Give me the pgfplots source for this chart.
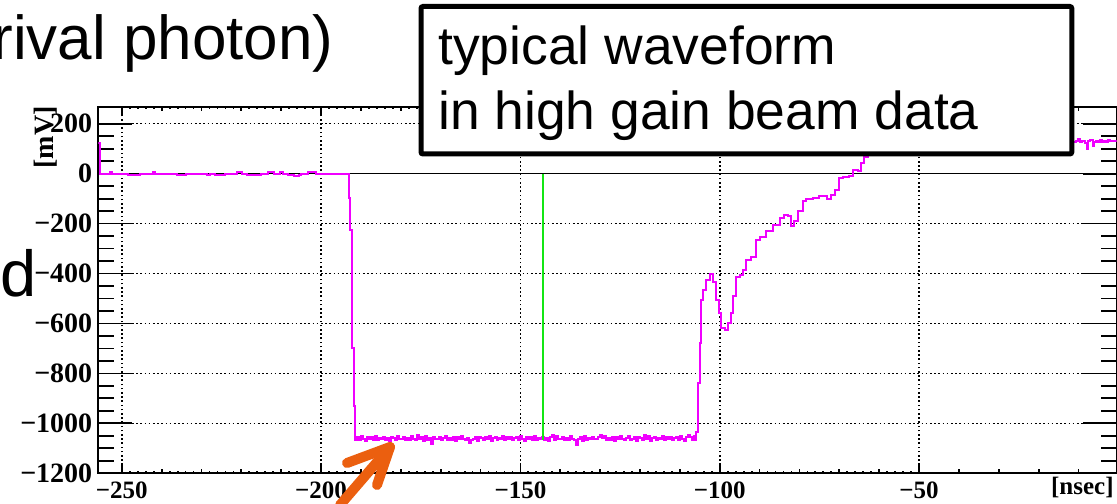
\documentclass[border=0pt]{standalone}
\usepackage{fontspec}
\setmainfont{Liberation Serif}
\newfontfamily\arial{Liberation Sans}
\usepackage{pgfplots}
\pgfplotsset{compat=1.18}
\definecolor{wfmag}{RGB}{240,0,255}
\definecolor{wfgreen}{RGB}{20,230,20}
\definecolor{arrowor}{RGB}{235,95,15}
\begin{document}
\begin{tikzpicture}
\useasboundingbox (0,0) rectangle (558.5pt,251.5pt);
\clip (0,0) rectangle (558.5pt,251.5pt);
\pgfplotsset{
  rootaxis/.style={
    at={(49.15pt,14.85pt)}, anchor=south west,
    scale only axis, width=509.2pt, height=183.3pt,
    xmin=-255.9, xmax=-0.4, ymin=-1200, ymax=268,
    axis line style={line width=1pt},
    tick style={line width=0.9pt, black},
    tick pos=both, tick align=inside,
    tick label style={font=\bfseries\fontsize{12.5}{15}\selectfont},
    grid style={black, line width=0.8pt, dash pattern=on 0.8pt off 1.3pt},
  }
}
% axis for x ticks, labels and vertical grid
\begin{axis}[rootaxis,
  xtick={-250,-200,-150,-100,-50},
  xticklabels={−250,−200,−150,−100,−50},
  minor x tick num=24,
  major tick length=4.5pt, minor tick length=1pt,
  extra x ticks={-240,-230,-220,-210,-190,-180,-170,-160,-140,-130,-120,-110,-90,-80,-70,-60,-40,-30,-20,-10},
  extra x tick labels={},
  extra tick style={major tick length=2.2pt, grid=none},
  xmajorgrids,
  ytick=\empty,
  xticklabel style={yshift=-1pt},
]
\end{axis}
% axis for y ticks, horizontal grid and the data
\begin{axis}[rootaxis,
  xtick=\empty,
  ytick={-1200,-1000,-800,-600,-400,-200,0,200},
  yticklabels={−1200,−1000,−800,−600,−400,−200,0,200},
  minor y tick num=3,
  major tick length=17pt, minor tick length=8pt,
  ymajorgrids,
  yticklabel style={font=\bfseries\fontsize{14}{16}\selectfont, xshift=0.5pt},
]
\addplot[black, line width=0.8pt] coordinates {(-255.9,0) (-0.4,0)};
\addplot[wfmag, line width=1pt, const plot] coordinates {
(-255.9,124) (-255.4,0) (-253.2,0) (-252.9,5) (-252.4,0) (-248.5,-4) (-245.4,0)
(-242.3,5) (-241.7,0) (-236.2,-4) (-234.0,0) (-228.6,-4) (-228.0,0) (-226.7,-4)
(-224.2,0) (-221.0,5) (-219.8,0) (-218.7,-4) (-215.0,0) (-213.3,5) (-211.7,0)
(-210.2,5) (-209.5,0) (-208.3,-4) (-206.8,-9) (-205.5,-4) (-205.0,0) (-203.3,5)
(-201.3,0) (-198.8,-3) (-195.0,0)
(-193.1,-98) (-192.7,-225) (-192.25,-700) (-191.83,-930) (-191.42,-1068)
(-191.0,-1055) (-190.5,-1066) (-190.0,-1052) (-189.5,-1063) (-189.0,-1069)
(-188.5,-1056) (-188.0,-1062) (-187.5,-1053) (-187.0,-1065) (-186.5,-1050)
(-186.0,-1068) (-185.5,-1058) (-185.0,-1064) (-184.5,-1054) (-184.0,-1067)
(-183.5,-1057) (-183.0,-1070) (-182.5,-1055) (-182.0,-1059) (-181.5,-1066)
(-181.0,-1051) (-180.5,-1064) (-180.0,-1061) (-179.5,-1053) (-179.0,-1068)
(-178.5,-1057) (-178.0,-1065) (-177.5,-1049) (-177.0,-1063) (-176.5,-1067)
(-176.0,-1045) (-175.5,-1062) (-175.0,-1056) (-174.5,-1069) (-174.0,-1052)
(-173.5,-1066) (-173.0,-1058) (-172.5,-1082) (-172.0,-1053) (-171.5,-1061)
(-171.0,-1063) (-170.5,-1054) (-170.0,-1068) (-169.5,-1058) (-169.0,-1051)
(-168.5,-1065) (-168.0,-1059) (-167.5,-1067) (-167.0,-1056) (-166.5,-1070)
(-166.0,-1054) (-165.5,-1062) (-165.0,-1052) (-164.5,-1064) (-164.0,-1066)
(-163.5,-1057) (-163.0,-1078) (-162.5,-1065) (-162.0,-1061) (-161.5,-1053)
(-161.0,-1069) (-160.5,-1056) (-160.0,-1059) (-159.5,-1067) (-159.0,-1055)
(-158.5,-1063) (-158.0,-1052) (-157.5,-1071) (-157.0,-1057) (-156.5,-1054)
(-156.0,-1066) (-155.5,-1058) (-155.0,-1064) (-154.5,-1051) (-154.0,-1068)
(-153.5,-1054) (-153.0,-1062) (-152.5,-1056) (-152.0,-1067) (-151.5,-1059)
(-151.0,-1055) (-150.5,-1066) (-150.0,-1052) (-149.5,-1063) (-149.0,-1069)
(-148.5,-1056) (-148.0,-1062) (-147.5,-1053) (-147.0,-1065) (-146.5,-1050)
(-146.0,-1068) (-145.5,-1058) (-145.0,-1064) (-144.5,-1054) (-144.0,-1067)
(-143.5,-1057) (-143.0,-1070) (-142.5,-1055) (-142.0,-1046) (-141.5,-1066)
(-141.0,-1051) (-140.5,-1064) (-140.0,-1061) (-139.5,-1053) (-139.0,-1068)
(-138.5,-1057) (-138.0,-1065) (-137.5,-1049) (-137.0,-1063) (-136.5,-1067)
(-136.0,-1088) (-135.5,-1062) (-135.0,-1056) (-134.5,-1069) (-134.0,-1052)
(-133.5,-1066) (-133.0,-1058) (-132.5,-1064) (-132.0,-1053) (-131.5,-1061)
(-131.0,-1063) (-130.5,-1054) (-130.0,-1045) (-129.5,-1058) (-129.0,-1051)
(-128.5,-1065) (-128.0,-1059) (-127.5,-1067) (-127.0,-1056) (-126.5,-1070)
(-126.0,-1054) (-125.5,-1062) (-125.0,-1052) (-124.5,-1064) (-124.0,-1066)
(-123.5,-1057) (-123.0,-1050) (-122.5,-1065) (-122.0,-1061) (-121.5,-1053)
(-121.0,-1069) (-120.5,-1056) (-120.0,-1059) (-119.5,-1067) (-119.0,-1048)
(-118.5,-1063) (-118.0,-1052) (-117.5,-1071) (-117.0,-1057) (-116.5,-1054)
(-116.0,-1066) (-115.5,-1058) (-115.0,-1064) (-114.5,-1051) (-114.0,-1068)
(-113.5,-1054) (-113.0,-1062) (-112.5,-1056) (-112.0,-1067) (-111.5,-1059)
(-111.0,-1055) (-110.5,-1066) (-110.0,-1052) (-109.5,-1063) (-109.0,-1069)
(-108.5,-1056) (-108.0,-1046) (-107.5,-1053) (-107.0,-1065) (-106.5,-1050)
(-106.0,-1068)
(-105.83,-1034) (-105.4,-840) (-105.0,-680) (-104.58,-506) (-104.17,-466)
(-103.33,-425) (-102.5,-401) (-101.67,-432) (-100.83,-506) (-100.17,-559)
(-99.58,-619) (-98.75,-626) (-97.92,-599) (-97.08,-559) (-96.67,-492)
(-96.0,-412) (-95.0,-405) (-94.17,-385) (-93.33,-345) (-92.08,-332)
(-90.83,-265) (-90.0,-252) (-88.33,-231) (-86.67,-205) (-85.0,-178)
(-83.75,-165) (-82.92,-171) (-82.08,-211) (-81.25,-191) (-80.42,-151)
(-79.17,-111) (-78.33,-102) (-76.67,-98) (-75.0,-91) (-73.75,-88)
(-73.17,-102) (-72.08,-84) (-71.0,-67) (-70.17,-17) (-69.17,-13)
(-67.5,-8) (-66.67,13) (-65.42,9) (-64.58,43) (-63.75,67)
(-62.9,80) (-61.0,92) (-58.0,100) (-55.0,110) (-50.0,118) (-45.0,122)
(-40.0,126) (-35.0,128) (-30.0,130) (-25.0,131) (-20.0,130) (-15.0,132)
(-11.25,128) (-10.5,132) (-10.0,140) (-9.5,126) (-9.0,130) (-8.3,124)
(-7.9,98) (-7.5,130) (-7.0,134) (-6.3,110) (-6.0,128) (-5.5,132) (-5.0,126)
(-4.5,135) (-4.0,128) (-3.5,131) (-3.0,125) (-2.5,133) (-2.0,129)
(-1.5,132) (-1.0,130) (-0.4,130)
};
\addplot[wfgreen, line width=1pt] coordinates {(-144.3,0) (-144.3,-1066)};
\end{axis}
% axis titles
\node[rotate=90, anchor=east, inner sep=0pt, font=\bfseries\fontsize{14}{16}\selectfont] at (23pt,198.5pt) {[mV]};
\node[anchor=north east, inner sep=0pt, font=\bfseries\fontsize{12.5}{15}\selectfont] at (557pt,13pt) {[nsec]};
% annotation box
\draw[line width=2.5pt, rounded corners=1pt, fill=white] (210.5pt,174.5pt) rectangle (535.9pt,248.25pt);
\node[anchor=base west, inner sep=0pt, font=\arial\fontsize{26.7}{31}\selectfont] at (219pt,219pt) {typical waveform};
\node[anchor=base west, inner sep=0pt, font=\arial\fontsize{26.7}{31}\selectfont] at (219pt,186.5pt) {in high gain beam data};
% slide text fragments
\node[anchor=base west, inner sep=0pt, font=\arial\fontsize{31}{37}\selectfont] at (-4pt,221.5pt) {rival photon)};
\node[anchor=base west, inner sep=0pt, font=\arial\fontsize{32.5}{39}\selectfont] at (0pt,103pt) {d};
% orange arrow
\draw[arrowor, line width=5pt, line cap=round, line join=round] (170pt,-1pt) -- (195pt,28pt);
\draw[arrowor, line width=5pt, line cap=round, line join=round] (173.5pt,20pt) -- (195pt,28pt) -- (188.5pt,9pt);
\end{tikzpicture}
\end{document}
